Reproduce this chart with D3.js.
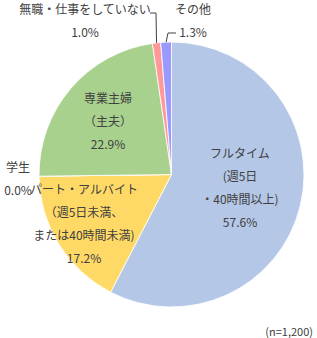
<!DOCTYPE html>
<html lang="ja">
<head>
<meta charset="UTF-8">
<script src="https://d3js.org/d3.v7.min.js"></script>
<style>
  body { margin: 0; background: #fff; }
  text { font-family: "Noto Sans CJK JP", "Noto Sans", sans-serif; fill: #404040; }
</style>
</head>
<body>
<div id="chart"></div>
<script>
// slices, clockwise from 12 o'clock
var categories = ["フルタイム", "パート・アルバイト", "学生", "専業主婦", "無職・仕事をしていない", "その他"];
var values = [57.6, 17.2, 0.0, 22.9, 1.0, 1.3];
var colors = ["#B4C7E7", "#FFD966", "#8FAADC", "#A9D18E", "#FF9999", "#9999FF"];
// label lines for each slice (last line is the percentage)
var labelLines = [
  ["フルタイム", "(週5日", "・40時間以上)"],
  ["パート・アルバイト", "（週5日未満、", "または40時間未満)"],
  ["学生"],
  ["専業主婦", "（主夫）"],
  ["無職・仕事をしていない"],
  ["その他"]
];
var labelPos = [[240, 152], [84, 188], [18, 166], [108, 97], [85, 8], [193, 8]];

var width = 317, height = 338;
var cx = 171.5, cy = 174.5, r = 132.5;

var svg = d3.select("#chart").append("svg")
  .attr("width", width)
  .attr("height", height);

var pie = d3.pie().sort(null).value(function(d) { return d; });
var arc = d3.arc().innerRadius(0).outerRadius(r);
var arcs = pie(values);

var g = svg.append("g").attr("transform", "translate(" + cx + "," + cy + ")");

g.selectAll("path")
  .data(arcs)
  .enter()
  .append("path")
  .attr("d", arc)
  .attr("fill", function(d, i) { return colors[i]; })
  .attr("stroke", "#fff")
  .attr("stroke-width", 0.8);

// leader lines for small slices
var edge = d3.arc().innerRadius(r).outerRadius(r);
var p4 = edge.centroid(arcs[4]);
var p5 = edge.centroid(arcs[5]);
var lines = [
  [[150, 13], [156, 13], [cx + p4[0], cy + p4[1]]],
  [[176, 33], [168, 33], [cx + p5[0], cy + p5[1]]]
];
svg.selectAll("polyline")
  .data(lines)
  .enter()
  .append("polyline")
  .attr("points", function(d) { return d.map(function(p) { return p.join(","); }).join(" "); })
  .attr("fill", "none")
  .attr("stroke", "#404040")
  .attr("stroke-width", 1);

// labels
var step = 23;
labelLines.forEach(function(lines, i) {
  var t = svg.append("text")
    .attr("text-anchor", "middle")
    .attr("font-size", 12)
    .attr("dominant-baseline", "central");
  var all = lines.concat([values[i].toFixed(1) + "%"]);
  all.forEach(function(s, j) {
    t.append("tspan")
      .attr("x", labelPos[i][0])
      .attr("y", labelPos[i][1] + j * step)
      .text(s);
  });
});

svg.append("text")
  .attr("x", 313)
  .attr("y", 331)
  .attr("text-anchor", "end")
  .attr("dominant-baseline", "central")
  .attr("font-size", 11)
  .text("(n=1,200)");
</script>
</body>
</html>
